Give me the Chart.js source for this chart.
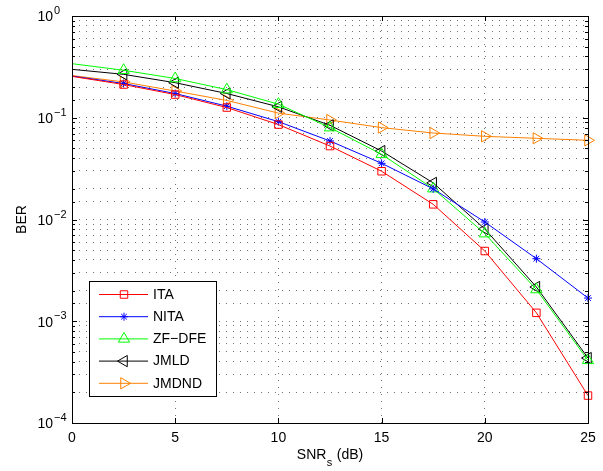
<!DOCTYPE html>
<html>
<head>
<meta charset="utf-8">
<script src="https://cdn.jsdelivr.net/npm/chart.js@4.4.1/dist/chart.umd.min.js"></script>
<style>
  html, body { margin: 0; padding: 0; background: #fff; }
</style>
</head>
<body>
<canvas id="berChart" width="603" height="471"></canvas>
<script>
// SNR values (dB) and BER curves
const snr = [0, 2.5, 5, 7.5, 10, 12.5, 15, 17.5, 20, 22.5, 25];
const berITA   = [0.255, 0.212, 0.169, 0.126, 0.0857, 0.0527, 0.0298, 0.0141, 0.0049, 0.00121, 0.000186];
const berNITA  = [0.257, 0.217, 0.173, 0.130, 0.0916, 0.0591, 0.0357, 0.0200, 0.00945, 0.00412, 0.00169];
const berZF    = [0.340, 0.293, 0.243, 0.189, 0.136, 0.080, 0.0437, 0.0201, 0.00726, 0.00205, 0.000413];
const berJMLD  = [0.299, 0.267, 0.221, 0.173, 0.128, 0.0843, 0.0471, 0.0229, 0.00807, 0.00217, 0.000435];
const berJMDND = [0.260, 0.225, 0.183, 0.148, 0.111, 0.095, 0.080, 0.0708, 0.0657, 0.0628, 0.060];

const seriesNames = ['ITA', 'NITA', 'ZF\u2212DFE', 'JMLD', 'JMDND'];
const xTicks = [0, 5, 10, 15, 20, 25];
const yExponents = [-4, -3, -2, -1, 0];

const FONT = "'Liberation Sans', Arial, Helvetica, sans-serif";

// marker look for each series
const styles = [
    { color: '#ff0000', point: 'rect', rotation: 0, radius: 5.3 },
    { color: '#0000ff', point: 'star', rotation: 0, radius: 4 },
    { color: '#00ff00', point: 'triangle', rotation: 0, radius: 6.5 },
    { color: '#000000', point: 'triangle', rotation: -90, radius: 6.5 },
    { color: '#ff8000', point: 'triangle', rotation: 90, radius: 6.5 }
];

function toPoints(values) {
    return snr.map((x, i) => ({ x: x, y: values[i] }));
}

const allSeries = [berITA, berNITA, berZF, berJMLD, berJMDND];

const datasets = allSeries.map((values, i) => ({
    label: seriesNames[i],
    data: toPoints(values),
    borderColor: styles[i].color,
    backgroundColor: 'rgba(0,0,0,0)',
    borderWidth: 1,
    pointStyle: styles[i].point,
    rotation: styles[i].rotation,
    // first point (0 dB) has no marker in the original
    pointRadius: (ctx) => ctx.dataIndex === 0 ? 0 : styles[i].radius,
    pointBorderColor: styles[i].color,
    pointBackgroundColor: 'rgba(0,0,0,0)',
    pointBorderWidth: 1,
    tension: 0,
    clip: false
}));

// draw a marker like Chart.js does (used for the legend)
function drawMarker(ctx, style, x, y) {
    const r = style.radius;
    ctx.save();
    ctx.strokeStyle = style.color;
    ctx.lineWidth = 1;
    ctx.beginPath();
    if (style.point === 'rect') {
        const s = r * Math.SQRT1_2;
        ctx.rect(x - s, y - s, 2 * s, 2 * s);
    } else if (style.point === 'star') {
        for (let k = 0; k < 4; k++) {
            const a = k * Math.PI / 4;
            ctx.moveTo(x + Math.sin(a) * r, y - Math.cos(a) * r);
            ctx.lineTo(x - Math.sin(a) * r, y + Math.cos(a) * r);
        }
    } else {
        let rad = style.rotation * Math.PI / 180;
        ctx.moveTo(x + Math.sin(rad) * r, y - Math.cos(rad) * r);
        rad += 2 * Math.PI / 3;
        ctx.lineTo(x + Math.sin(rad) * r, y - Math.cos(rad) * r);
        rad += 2 * Math.PI / 3;
        ctx.lineTo(x + Math.sin(rad) * r, y - Math.cos(rad) * r);
        ctx.closePath();
    }
    ctx.stroke();
    ctx.restore();
}

// box, inward ticks, tick labels, axis titles and legend
const matlabLook = {
    id: 'matlabLook',
    afterDraw(chart) {
        const ctx = chart.ctx;
        const area = chart.chartArea;
        const xs = chart.scales.x;
        const ys = chart.scales.y;

        ctx.save();
        ctx.strokeStyle = '#000';
        ctx.lineWidth = 1;

        // ticks pointing into the plot on all four sides
        ctx.beginPath();
        xTicks.forEach((t) => {
            const px = Math.round(xs.getPixelForValue(t)) + 0.5;
            ctx.moveTo(px, area.bottom); ctx.lineTo(px, area.bottom - 5);
            ctx.moveTo(px, area.top); ctx.lineTo(px, area.top + 5);
        });
        ys.ticks.forEach((t) => {
            const py = Math.round(ys.getPixelForValue(t.value)) + 0.5;
            const len = Math.abs(Math.log10(t.value) - Math.round(Math.log10(t.value))) < 1e-6 ? 5 : 3;
            ctx.moveTo(area.left, py); ctx.lineTo(area.left + len, py);
            ctx.moveTo(area.right, py); ctx.lineTo(area.right - len, py);
        });
        ctx.stroke();

        // axes box
        ctx.strokeRect(Math.round(area.left) + 0.5, Math.round(area.top) + 0.5,
            Math.round(area.right - area.left), Math.round(area.bottom - area.top));

        ctx.fillStyle = '#000';

        // x tick labels
        ctx.font = '14px ' + FONT;
        ctx.textAlign = 'center';
        ctx.textBaseline = 'alphabetic';
        xTicks.forEach((t) => {
            ctx.fillText(String(t), xs.getPixelForValue(t), 442);
        });

        // y tick labels 10^k
        ctx.textBaseline = 'middle';
        yExponents.forEach((e) => {
            const py = ys.getPixelForValue(Math.pow(10, e));
            ctx.font = '14px ' + FONT;
            ctx.textAlign = 'right';
            ctx.fillText('10', 53, py + 1.5);
            ctx.font = '11px ' + FONT;
            ctx.textAlign = 'left';
            ctx.fillText(e < 0 ? '\u2212' + Math.abs(e) : String(e), 54, py - 5);
        });

        // y title
        ctx.save();
        ctx.translate(22, (area.top + area.bottom) / 2);
        ctx.rotate(-Math.PI / 2);
        ctx.font = '14px ' + FONT;
        ctx.textAlign = 'center';
        ctx.textBaseline = 'middle';
        ctx.fillText('BER', 0, 0);
        ctx.restore();

        // x title with subscript
        ctx.textBaseline = 'alphabetic';
        ctx.textAlign = 'left';
        ctx.font = '14px ' + FONT;
        const w1 = ctx.measureText('SNR').width;
        const w3 = ctx.measureText(' (dB)').width;
        ctx.font = '11px ' + FONT;
        const w2 = ctx.measureText('s').width + 1;
        let tx = (area.left + area.right) / 2 - (w1 + w2 + w3) / 2;
        const base = 459;
        ctx.font = '14px ' + FONT;
        ctx.fillText('SNR', tx, base);
        ctx.font = '11px ' + FONT;
        ctx.fillText('s', tx + w1 + 0.5, base + 7);
        ctx.font = '14px ' + FONT;
        ctx.fillText(' (dB)', tx + w1 + w2, base);

        // legend box
        const lx = 89.5, ly = 281.5, lw = 127, lh = 115;
        ctx.fillStyle = '#fff';
        ctx.fillRect(lx, ly, lw, lh);
        ctx.strokeStyle = '#000';
        ctx.strokeRect(lx, ly, lw, lh);
        seriesNames.forEach((name, i) => {
            const ry = 294.5 + i * 22.2;
            ctx.strokeStyle = styles[i].color;
            ctx.beginPath();
            ctx.moveTo(99, ry); ctx.lineTo(148, ry);
            ctx.stroke();
            drawMarker(ctx, styles[i], 124, ry);
            ctx.fillStyle = '#000';
            ctx.font = '14px ' + FONT;
            ctx.textAlign = 'left';
            ctx.textBaseline = 'middle';
            ctx.fillText(name, 153, ry + 0.5);
        });
        ctx.restore();
    }
};

const berChart = new Chart(document.getElementById('berChart').getContext('2d'), {
    type: 'line',
    data: { datasets: datasets },
    options: {
        responsive: false,
        animation: false,
        events: [],
        layout: { padding: { left: 72, top: 16, right: 15, bottom: 48 } },
        plugins: { legend: { display: false }, tooltip: { enabled: false } },
        scales: {
            x: {
                type: 'linear',
                min: 0,
                max: 25,
                afterBuildTicks: (axis) => { axis.ticks = xTicks.map((v) => ({ value: v })); },
                grid: { color: 'rgba(0,0,0,0.55)', lineWidth: 1, drawTicks: false },
                border: { display: false, dash: [1, 6] },
                ticks: { display: false }
            },
            y: {
                type: 'logarithmic',
                min: 1e-4,
                max: 1,
                grid: { color: 'rgba(0,0,0,0.55)', lineWidth: 1, drawTicks: false },
                border: { display: false, dash: [1, 6] },
                ticks: { display: false }
            }
        }
    },
    plugins: [matlabLook]
});
</script>
</body>
</html>
